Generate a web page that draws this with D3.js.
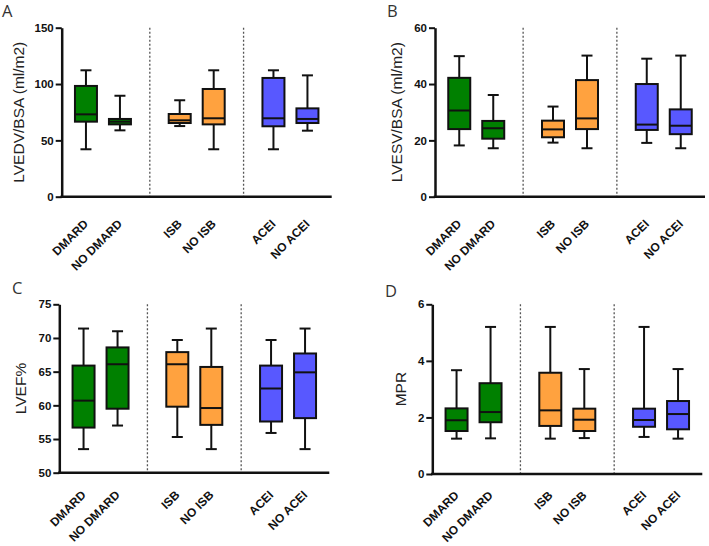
<!DOCTYPE html>
<html><head><meta charset="utf-8">
<script src="https://cdn.jsdelivr.net/npm/d3@7"></script>
<style>
html,body{margin:0;padding:0;background:#fff;}
svg{display:block;font-family:Arial,"Liberation Sans",sans-serif;}
</style></head>
<body><svg id="c" width="709" height="546"></svg>
<script>
// ---- data ----
const categories = ["DMARD","NO DMARD","ISB","NO ISB","ACEI","NO ACEI"];
const groups = ["DMARD","ISB","ACEI"];
const groupOf = ["DMARD","DMARD","ISB","ISB","ACEI","ACEI"];
const colors = ["#008000","#008000","#FFA23F","#FFA23F","#5858FF","#5858FF"];
// [min, q1, median, q3, max]
const lvedvStats = [[42.1,66.6,73.1,98.3,112.2],[58.9,64.2,66.6,69.0,89.6],[62.7,65.4,67.8,73.4,85.6],[42.1,64.2,69.6,95.6,112.2],[42.1,62.5,69.6,105.4,112.2],[58.6,65.4,69.0,78.4,107.7]];
const lvesvStats = [[18.2,24.0,30.6,42.2,49.9],[17.2,20.6,24.3,26.9,36.1],[19.2,21.1,23.9,27.0,32.0],[17.2,24.0,27.8,41.4,50.1],[19.1,23.7,25.6,40.0,49.0],[17.2,22.2,25.2,31.0,50.1]];
const lvefStats = [[53.5,56.7,60.7,65.9,71.4],[57.0,59.5,66.1,68.6,71.0],[55.3,59.8,66.1,67.9,69.7],[53.5,57.1,59.6,65.7,71.4],[55.9,57.6,62.5,65.9,69.7],[53.5,58.1,64.9,67.7,71.4]];
const mprStats = [[1.25,1.52,1.90,2.32,3.67],[1.26,1.83,2.19,3.21,5.20],[1.25,1.70,2.25,3.58,5.20],[1.27,1.52,1.92,2.31,3.71],[1.31,1.67,1.91,2.31,5.20],[1.25,1.58,2.12,2.58,3.71]];
const lvedvTicks = [0,50,100,150];
const lvesvTicks = [0,20,40,60];
const lvefTicks = [50,55,60,65,70,75];
const mprTicks = [0,2,4,6];

const panels = [
  {letter:"A", title:"LVEDV/BSA (ml/m2)", stats:lvedvStats, ticks:lvedvTicks, ox:61.7, top:27.7, bottom:196.7, lx:2, ly:17, tx:19, lab:28},
  {letter:"B", title:"LVESV/BSA (ml/m2)", stats:lvesvStats, ticks:lvesvTicks, ox:435, top:27.7, bottom:196.7, lx:387, ly:17, tx:397, lab:28},
  {letter:"C", title:"LVEF%", stats:lvefStats, ticks:lvefTicks, ox:59.3, top:304.3, bottom:472.7, lx:12, ly:294, tx:21, lab:23},
  {letter:"D", title:"MPR", stats:mprStats, ticks:mprTicks, ox:432.3, top:304.3, bottom:474, lx:385, ly:297, tx:401, lab:22}
];

const svg = d3.select("#c");
const W = 270;
const FONT = "Arial, 'Liberation Sans', sans-serif";

panels.forEach(p => {
  const g = svg.append("g");
  const y = d3.scaleLinear().domain(d3.extent(p.ticks)).range([p.bottom, p.top]);
  const outer = d3.scaleBand().domain(groups).range([p.ox, p.ox + W]).paddingInner(0.12).paddingOuter(0);
  const inner = d3.scaleBand().domain([0,1]).range([0, outer.bandwidth()]).paddingInner(0.353).paddingOuter(0.39);
  const xc = i => outer(groupOf[i]) + inner(i % 2) + inner.bandwidth()/2;
  const bw = inner.bandwidth();

  // panel letter
  g.append("text").attr("x", p.lx).attr("y", p.ly).text(p.letter)
    .attr("font-size", 16.5).attr("fill", "#333").attr("font-family", "'Open Sans',sans-serif");

  // y title
  g.append("text").attr("transform", `translate(${p.tx},${(p.top+p.bottom)/2}) rotate(-90)`)
    .attr("text-anchor","middle").attr("dy","0.35em").attr("font-size", 15.5).attr("fill","#222")
    .attr("font-family", FONT).text(p.title);

  // separators
  for (let k = 1; k < groups.length; k++) {
    const sx = outer(groups[k]) - outer.step()*outer.paddingInner()/2;
    g.append("line").attr("x1", sx).attr("x2", sx).attr("y1", p.top).attr("y2", p.bottom)
      .attr("stroke", "#555").attr("stroke-width", 1.3).attr("stroke-dasharray", "2,2");
  }

  // boxes
  p.stats.forEach((s, i) => {
    const cx = xc(i);
    const bg = g.append("g");
    bg.append("line").attr("x1", cx).attr("x2", cx).attr("y1", y(s[4])).attr("y2", y(s[3]))
      .attr("stroke", "#111").attr("stroke-width", 2);
    bg.append("line").attr("x1", cx).attr("x2", cx).attr("y1", y(s[1])).attr("y2", y(s[0]))
      .attr("stroke", "#111").attr("stroke-width", 2);
    [s[0], s[4]].forEach(v => {
      bg.append("line").attr("x1", cx - 5.5).attr("x2", cx + 5.5).attr("y1", y(v)).attr("y2", y(v))
        .attr("stroke", "#111").attr("stroke-width", 2);
    });
    bg.append("rect").attr("x", cx - bw/2).attr("width", bw).attr("y", y(s[3])).attr("height", y(s[1]) - y(s[3]))
      .attr("fill", colors[i]).attr("stroke", "#111").attr("stroke-width", 2);
    bg.append("line").attr("x1", cx - bw/2).attr("x2", cx + bw/2).attr("y1", y(s[2])).attr("y2", y(s[2]))
      .attr("stroke", "#111").attr("stroke-width", 2);
  });

  // y axis
  const ya = g.append("g").attr("transform", `translate(${p.ox},0)`)
    .call(d3.axisLeft(y).tickValues(p.ticks).tickFormat(d3.format("d")).tickSize(6).tickPadding(2).tickSizeOuter(0));
  ya.attr("font-family", FONT);
  ya.select(".domain").attr("stroke", "#111").attr("stroke-width", 2.5);
  ya.selectAll(".tick line").attr("stroke", "#111").attr("stroke-width", 2);
  ya.selectAll(".tick text").attr("font-size", 11.5).attr("font-weight", 700).attr("fill", "#111");

  // x axis
  const xa = g.append("g").attr("transform", `translate(0,${p.bottom})`).attr("font-family", FONT);
  xa.append("line").attr("x1", p.ox - 1.25).attr("x2", p.ox + W).attr("stroke", "#111").attr("stroke-width", 2.5);
  categories.forEach((c, i) => {
    xa.append("text").attr("transform", `translate(${xc(i) + 3},${p.lab}) rotate(-45)`)
      .attr("text-anchor", "end").attr("font-size", 12).attr("font-weight", 700).attr("fill", "#111")
      .text(c);
  });
});
</script></body></html>
